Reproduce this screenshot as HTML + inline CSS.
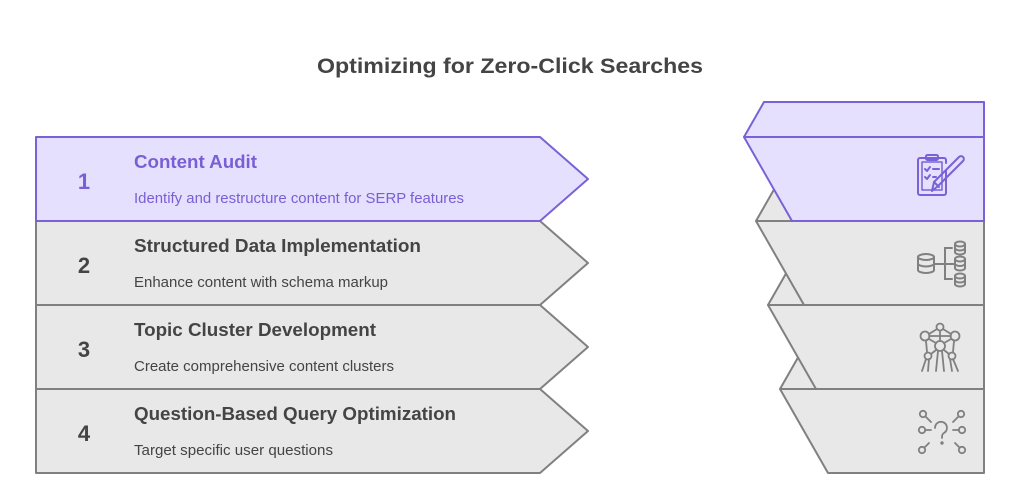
<!DOCTYPE html>
<html><head><meta charset="utf-8"><style>
html,body{margin:0;padding:0;background:#fff;}
svg{display:block;}
text{font-family:"Liberation Sans",Arial,sans-serif;}
</style></head><body>
<svg width="1020" height="498" viewBox="0 0 1020 498" xmlns="http://www.w3.org/2000/svg">
<rect width="1020" height="498" fill="#fff"/>
<text x="510" y="73" text-anchor="middle" font-size="21" font-weight="bold" fill="#444" textLength="386" lengthAdjust="spacingAndGlyphs">Optimizing for Zero-Click Searches</text>

<!-- left arrows -->
<g stroke-width="2" stroke-linejoin="round">
<polygon points="36,389 540,389 588,431 540,473 36,473" fill="#e8e8e8" stroke="#808080"/>
<polygon points="36,305 540,305 588,347 540,389 36,389" fill="#e8e8e8" stroke="#808080"/>
<polygon points="36,221 540,221 588,263 540,305 36,305" fill="#e8e8e8" stroke="#808080"/>
<polygon points="36,137 540,137 588,179 540,221 36,221" fill="#e5e0fe" stroke="#7a62d6"/>
</g>

<!-- right shapes (drawn bottom to top) -->
<g stroke-width="2" stroke-linejoin="round">
<polygon points="780,389 800,354 984,354 984,389" fill="#e8e8e8" stroke="#808080"/>
<polygon points="780,389 984,389 984,473 828,473" fill="#e8e8e8" stroke="#808080"/>
<polygon points="768,305 788,270 984,270 984,305" fill="#e8e8e8" stroke="#808080"/>
<polygon points="768,305 984,305 984,389 816,389" fill="#e8e8e8" stroke="#808080"/>
<polygon points="756,221 776,186 984,186 984,221" fill="#e8e8e8" stroke="#808080"/>
<polygon points="756,221 984,221 984,305 804,305" fill="#e8e8e8" stroke="#808080"/>
<polygon points="744,137 764,102 984,102 984,137" fill="#e5e0fe" stroke="#7a62d6"/>
<polygon points="744,137 984,137 984,221 792,221" fill="#e5e0fe" stroke="#7a62d6"/>
</g>

<!-- row texts -->
<g font-weight="bold" font-size="22" text-anchor="middle">
<text x="84" y="189" fill="#7a5fd4">1</text>
<text x="84" y="273" fill="#444">2</text>
<text x="84" y="357" fill="#444">3</text>
<text x="84" y="441" fill="#444">4</text>
</g>
<g font-weight="bold" font-size="18">
<text x="134" y="168" fill="#7a5fd4" textLength="123" lengthAdjust="spacingAndGlyphs">Content Audit</text>
<text x="134" y="252" fill="#444" textLength="287" lengthAdjust="spacingAndGlyphs">Structured Data Implementation</text>
<text x="134" y="336" fill="#444" textLength="242" lengthAdjust="spacingAndGlyphs">Topic Cluster Development</text>
<text x="134" y="420" fill="#444" textLength="322" lengthAdjust="spacingAndGlyphs">Question-Based Query Optimization</text>
</g>
<g font-size="14.5">
<text x="134" y="203" fill="#7a5fd4" textLength="330" lengthAdjust="spacingAndGlyphs">Identify and restructure content for SERP features</text>
<text x="134" y="287" fill="#444" textLength="254" lengthAdjust="spacingAndGlyphs">Enhance content with schema markup</text>
<text x="134" y="371" fill="#444" textLength="260" lengthAdjust="spacingAndGlyphs">Create comprehensive content clusters</text>
<text x="134" y="455" fill="#444" textLength="199" lengthAdjust="spacingAndGlyphs">Target specific user questions</text>
</g>

<!-- icon 1: clipboard + pencil -->
<g fill="none" stroke="#7a62d6" stroke-width="2" stroke-linecap="round" stroke-linejoin="round">
<path d="M946,170 V193 a2,2 0 0 1 -2,2 H920 a2,2 0 0 1 -2,-2 V160 a2,2 0 0 1 2,-2 H944 a2,2 0 0 1 2,2 V163"/>
<path d="M922,162 H942 V190 H922 Z" stroke-width="1.5"/>
<rect x="926" y="155" width="12" height="5" rx="1.5"/>
<path d="M925,169 l2,2 l3,-4"/>
<path d="M925,177 l2,2 l3,-4"/>
<path d="M933,169 h6"/>
<path d="M933,177 h3"/>
<path d="M932,191 l2,-9 l25,-25 a2.5,2.5 0 0 1 4,4 l-25,25 z"/>
<path d="M934,182 l5,5"/>
</g>

<!-- icon 2: databases -->
<g fill="none" stroke="#808080" stroke-width="2" stroke-linecap="round">
<ellipse cx="926" cy="257" rx="8" ry="3"/>
<path d="M918,257 V270 a8,3 0 0 0 16,0 V257"/>
<path d="M918,263.5 a8,3 0 0 0 16,0"/>
<path d="M934,264 H945"/>
<path d="M952,248 H945 V279 H952"/>
<ellipse cx="960" cy="244" rx="5" ry="2.5"/>
<path d="M955,244 V252 a5,2.5 0 0 0 10,0 V244"/>
<path d="M955,248 a5,2.5 0 0 0 10,0"/>
<ellipse cx="960" cy="259" rx="5" ry="2.5"/>
<path d="M955,259 V268 a5,2.5 0 0 0 10,0 V259"/>
<path d="M955,263.5 a5,2.5 0 0 0 10,0"/>
<ellipse cx="960" cy="276" rx="5" ry="2.5"/>
<path d="M955,276 V284 a5,2.5 0 0 0 10,0 V276"/>
<path d="M955,280 a5,2.5 0 0 0 10,0"/>
<path d="M945,264 H955"/>
</g>

<!-- icon 3: atom / cluster -->
<g fill="none" stroke="#808080" stroke-width="1.8" stroke-linecap="round">
<circle cx="940" cy="327" r="3.5"/>
<circle cx="925" cy="336" r="4.5"/>
<circle cx="955" cy="336" r="4.5"/>
<circle cx="940" cy="346" r="5"/>
<circle cx="928" cy="356" r="3.5"/>
<circle cx="952" cy="356" r="3.5"/>
<path d="M937,329 L929,334 M943,329 L951,334 M940,331 V341 M929,336 H951"/>
<path d="M929,339 L936,343 M951,339 L944,343 M926,341 L927,352 M954,341 L953,352 M936,350 L931,354 M944,350 L949,354"/>
<path d="M926,359 L922,371 M929,359 L928,371 M950,359 L952,371 M953,359 L958,371 M938,351 L936,371 M942,351 L944,371"/>
</g>

<!-- icon 4: question network -->
<g fill="none" stroke="#808080" stroke-width="1.8" stroke-linecap="round">
<circle cx="923" cy="414" r="3.2"/>
<circle cx="961" cy="414" r="3.2"/>
<circle cx="922" cy="430" r="3.2"/>
<circle cx="962" cy="430" r="3.2"/>
<circle cx="922" cy="450" r="3.2"/>
<circle cx="962" cy="450" r="3.2"/>
<path d="M926,417 L931,422 M958,417 L953,422 M925,430 H931 M959,430 H953 M925,447 L929,443 M959,447 L955,443"/>
<path d="M935,428 a6,6 0 1 1 9,5 q-2,1 -2,4 v1"/>
<circle cx="942" cy="443" r="0.8" fill="#808080"/>
</g>
</svg>
</body></html>
